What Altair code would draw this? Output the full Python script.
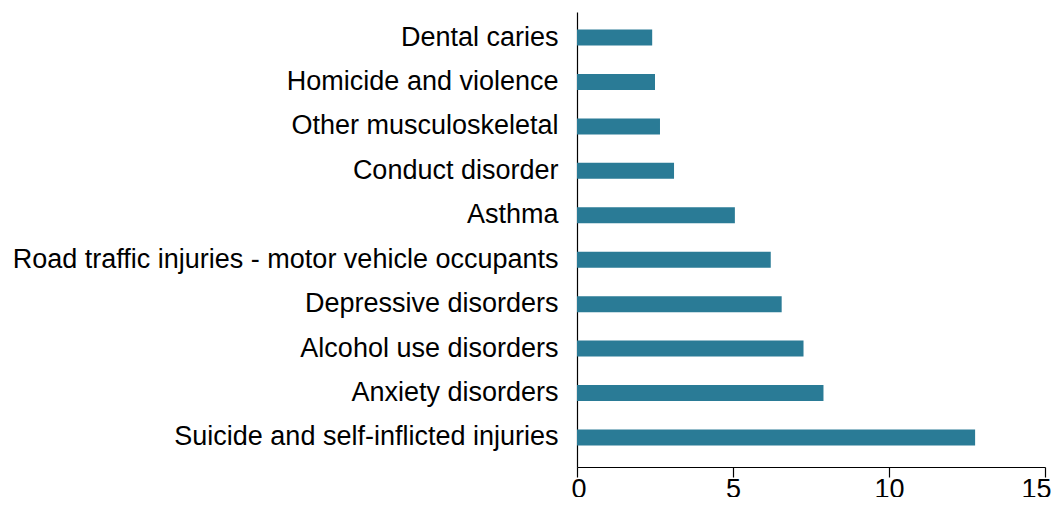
import altair as alt
import pandas as pd

causes = [
    "Dental caries",
    "Homicide and violence",
    "Other musculoskeletal",
    "Conduct disorder",
    "Asthma",
    "Road traffic injuries - motor vehicle occupants",
    "Depressive disorders",
    "Alcohol use disorders",
    "Anxiety disorders",
    "Suicide and self-inflicted injuries",
]
values = [2.41, 2.50, 2.66, 3.11, 5.06, 6.21, 6.56, 7.26, 7.90, 12.76]
x_ticks = [0, 5, 10, 15]

df = pd.DataFrame({"cause": causes, "value": values})

FONT = "Liberation Sans"

chart = (
    alt.Chart(df)
    .mark_bar(color="#2a7b96", size=16)
    .encode(
        x=alt.X(
            "value:Q",
            scale=alt.Scale(domain=[0, 15], nice=False, zero=True),
            axis=alt.Axis(
                values=x_ticks,
                title=None,
                grid=False,
                domainColor="black",
                domainWidth=1.2,
                tickColor="black",
                tickWidth=1.2,
                tickSize=10,
                labelFontSize=27,
                labelFont=FONT,
                labelColor="black",
                labelPadding=-1,
                labelFlush=True,
                labelFlushOffset=6,
                labelOverlap=False,
            ),
        ),
        y=alt.Y(
            "cause:N",
            sort=causes,
            scale=alt.Scale(paddingInner=0, paddingOuter=0.119, align=0.31),
            axis=alt.Axis(
                title=None,
                ticks=False,
                tickSize=0,
                domainColor="black",
                domainWidth=1.2,
                labelFontSize=27,
                labelFont=FONT,
                labelColor="black",
                labelPadding=19,
                labelLimit=0,
            ),
        ),
    )
    .properties(
        width=468,
        height=455,
        autosize=alt.AutoSizeParams(type="none"),
        padding={"left": 569, "top": 4, "right": 6, "bottom": 30},
    )
    .configure_view(stroke=None)
)

chart.save("out.html", embed_options={"renderer": "svg", "actions": False})
